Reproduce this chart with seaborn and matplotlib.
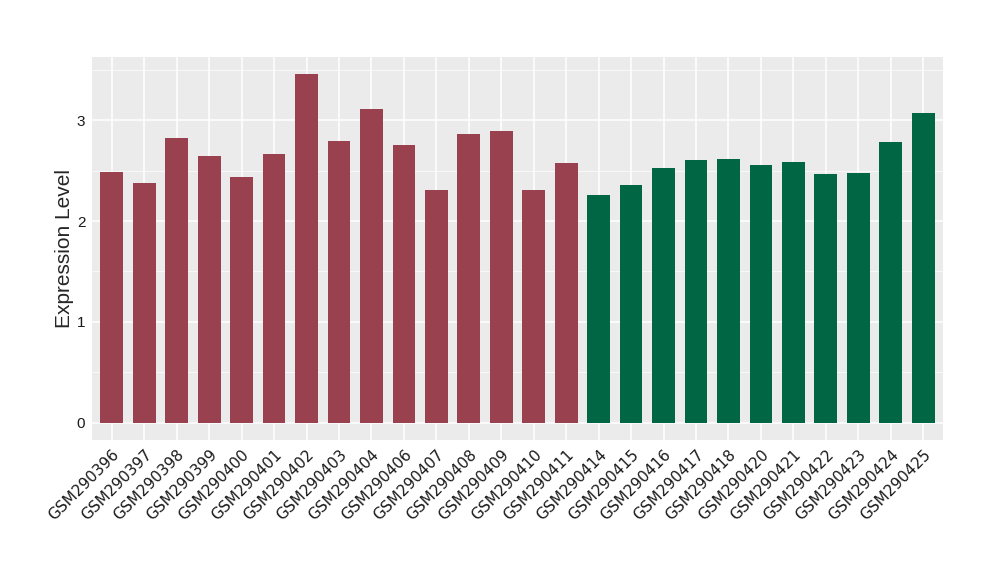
import matplotlib
matplotlib.use("Agg")
import matplotlib.pyplot as plt
from matplotlib.ticker import MultipleLocator
import pandas as pd
import seaborn as sns

# Dados
samples = [
    "GSM290396", "GSM290397", "GSM290398", "GSM290399", "GSM290400",
    "GSM290401", "GSM290402", "GSM290403", "GSM290404", "GSM290406",
    "GSM290407", "GSM290408", "GSM290409", "GSM290410", "GSM290411",
    "GSM290414", "GSM290415", "GSM290416", "GSM290417", "GSM290418",
    "GSM290420", "GSM290421", "GSM290422", "GSM290423", "GSM290424",
    "GSM290425",
]
expression = [
    2.49, 2.38, 2.83, 2.65, 2.44, 2.67, 3.46, 2.80, 3.11, 2.76,
    2.31, 2.87, 2.89, 2.31, 2.58,
    2.26, 2.36, 2.53, 2.61, 2.62, 2.56, 2.59, 2.47, 2.48, 2.79, 3.07,
]
groups = ["A"] * 15 + ["B"] * 11
group_colors = {"A": "#99414F", "B": "#006644"}

df = pd.DataFrame({"sample": samples, "value": expression, "group": groups})

sns.set_style("darkgrid", {"axes.facecolor": "#EBEBEB", "grid.color": "white"})
plt.rcParams["font.family"] = ["Liberation Sans", "DejaVu Sans"]

fig = plt.figure(figsize=(10, 5.8), dpi=100)
ax = fig.add_axes([0.0923, 0.2414, 0.8504, 0.6609])

sns.barplot(data=df, x="sample", y="value", hue="group", palette=group_colors,
            dodge=False, width=0.7, legend=False, ax=ax, saturation=1,
            linewidth=0, edgecolor="none")

ax.set_xlim(-0.6, len(samples) - 0.4)
ymax = max(expression)
ax.set_ylim(-0.05 * ymax, ymax * 1.05)

ax.yaxis.set_major_locator(MultipleLocator(1))
ax.yaxis.set_minor_locator(MultipleLocator(0.5))
ax.grid(which="major", color="white", linewidth=1.1)
ax.grid(which="minor", axis="y", color="white", linewidth=0.5)
ax.set_axisbelow(True)
for s in ax.spines.values():
    s.set_visible(False)

ax.tick_params(axis="both", which="major", length=3, color="#333333",
               labelsize=11, labelcolor="#1a1a1a", pad=2)
ax.tick_params(axis="y", which="minor", length=0)
plt.setp(ax.get_xticklabels(), rotation=45, ha="right", va="top",
         rotation_mode="anchor", family="DejaVu Sans", fontsize=11)

ax.set_xlabel("")
ax.set_ylabel("Expression Level", fontsize=15, labelpad=2)

fig.savefig("out.png", dpi=100)
